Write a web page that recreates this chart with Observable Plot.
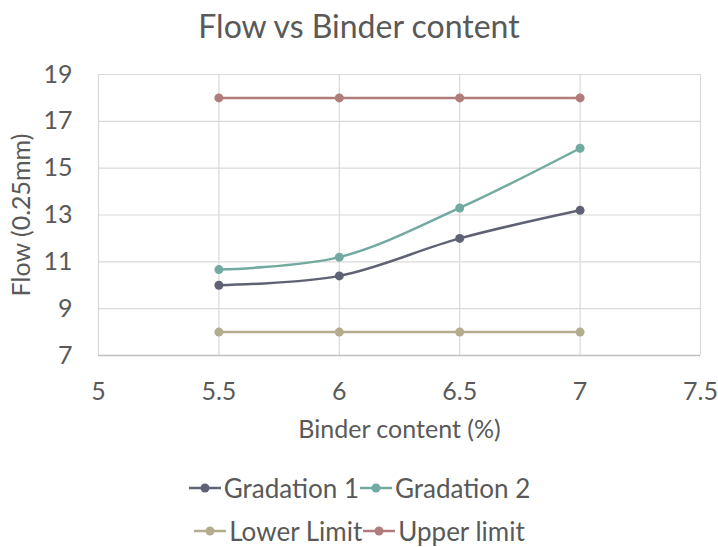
<!DOCTYPE html>
<html>
<head>
<meta charset="utf-8">
<script src="https://cdn.jsdelivr.net/npm/d3@7"></script>
<script src="https://cdn.jsdelivr.net/npm/@observablehq/plot@0.6"></script>
<style>
  html, body { margin: 0; padding: 0; background: #fff; }
  body { width: 718px; height: 547px; font-family: Lato, "Open Sans", sans-serif; color: #595959; overflow: hidden; }
  #title { height: 50px; line-height: 52px; text-align: center; font-size: 32px; color: #595959; }
  #chart svg text { fill: #595959 !important; }
  #legend { font-size: 26px; color: #595959; padding-top: 16px; }
  .row { display: flex; justify-content: center; height: 43px; align-items: center; }
  .item { display: flex; align-items: center; }
  .item svg { margin-right: 2px; }
</style>
</head>
<body>
<div id="title">Flow vs Binder content</div>
<div id="chart"></div>
<div id="legend"></div>
<script>
const binder = [5.5, 6, 6.5, 7];
const gradation1 = [10.0, 10.4, 12.0, 13.2];
const gradation2 = [10.67, 11.2, 13.3, 15.85];
const lowerLimit = [8, 8, 8, 8];
const upperLimit = [18, 18, 18, 18];
const seriesNames = ["Gradation 1", "Gradation 2", "Lower Limit", "Upper limit"];
const seriesColors = ["#5f6275", "#72aaa1", "#b3ad8e", "#b07c7c"];
const xTicks = [5, 5.5, 6, 6.5, 7, 7.5];
const yTicks = [7, 9, 11, 13, 15, 17, 19];

const valuesBySeries = [gradation1, gradation2, lowerLimit, upperLimit];
const data = [];
seriesNames.forEach((s, i) => binder.forEach((b, j) => data.push({series: s, binder: b, flow: valuesBySeries[i][j]})));

const fmt = d => `${d}`;
const plot = Plot.plot({
  width: 718,
  height: 400,
  marginLeft: 98,
  marginRight: 18,
  marginTop: 24,
  marginBottom: 95,
  style: {fontFamily: "Lato, 'Open Sans', sans-serif", fontSize: "25px", color: "#595959", background: "#fff"},
  x: {domain: [5, 7.5], ticks: xTicks, tickFormat: fmt, label: "Binder content (%)"},
  y: {domain: [7, 19], ticks: yTicks, tickFormat: fmt, label: "Flow (0.25mm)"},
  color: {domain: seriesNames, range: seriesColors},
  marks: [
    Plot.gridX(xTicks, {stroke: "#d9d9d9", strokeOpacity: 1, strokeWidth: 1.2}),
    Plot.gridY(yTicks, {stroke: "#d9d9d9", strokeOpacity: 1, strokeWidth: 1.2}),
    Plot.ruleY([7], {stroke: "#bfbfbf", strokeWidth: 1.5}),
    Plot.axisX(xTicks, {tickSize: 0, tickPadding: 27, fontSize: 25, tickFormat: fmt, label: null}),
    Plot.axisX({tickSize: 0, ticks: [], label: "Binder content (%)", fontSize: 25, labelAnchor: "center", labelOffset: 82, labelArrow: "none"}),
    Plot.axisY(yTicks, {tickSize: 0, tickPadding: 26, fontSize: 25, tickFormat: fmt, label: null}),
    Plot.axisY({tickSize: 0, ticks: [], label: "Flow (0.25mm)", fontSize: 25, labelAnchor: "center", labelOffset: 86, labelArrow: "none"}),
    Plot.line(data, {x: "binder", y: "flow", z: "series", stroke: "series", strokeWidth: 2.5, curve: "catmull-rom"}),
    Plot.dot(data, {x: "binder", y: "flow", fill: "series", r: 4.5})
  ]
});
document.getElementById("chart").appendChild(plot);

// legend
const legend = document.getElementById("legend");
const rows = [[0, 1], [2, 3]];
rows.forEach(r => {
  const row = document.createElement("div");
  row.className = "row";
  r.forEach(i => {
    const item = document.createElement("div");
    item.className = "item";
    item.innerHTML = `<svg width="34" height="12"><line x1="1" y1="6" x2="33" y2="6" stroke="${seriesColors[i]}" stroke-width="2.5"/><circle cx="17" cy="6" r="4.5" fill="${seriesColors[i]}"/></svg><span>${seriesNames[i]}</span>`;
    row.appendChild(item);
  });
  legend.appendChild(row);
});
</script>
</body>
</html>
